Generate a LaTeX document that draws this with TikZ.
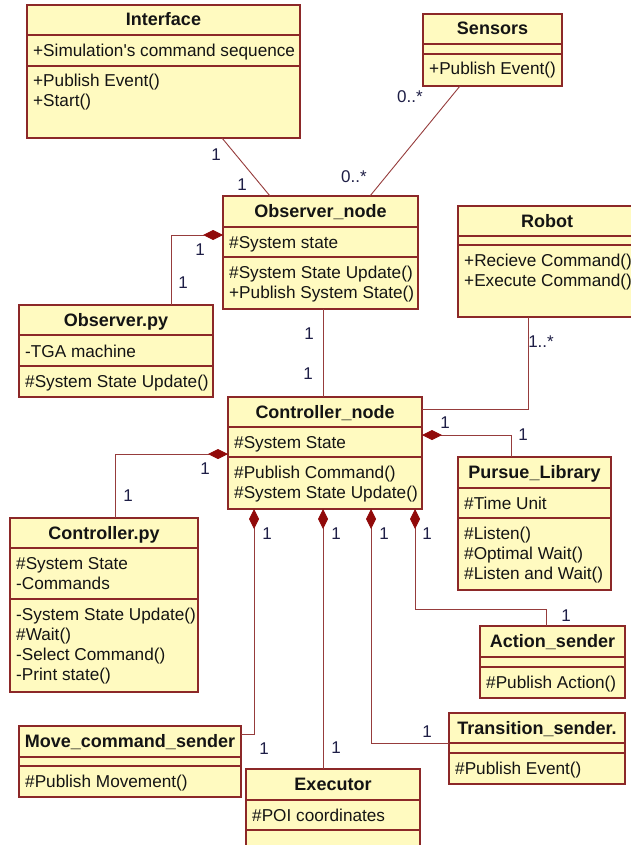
\documentclass[tikz,border=0pt]{standalone}
\usepackage{fontspec}
\setmainfont{Liberation Sans}
\usetikzlibrary{arrows.meta}

\definecolor{ufill}{RGB}{255,250,192}
\definecolor{uborder}{RGB}{140,40,40}
\definecolor{uline}{RGB}{150,60,60}
\definecolor{udiamond}{RGB}{145,10,10}
\definecolor{utext}{RGB}{20,20,20}
\definecolor{umult}{RGB}{30,30,70}

\tikzset{
  classbox/.style={draw=uborder, fill=ufill, line width=1.1pt, inner sep=0pt,
    outer sep=0pt, anchor=north west},
  divider/.style={draw=uborder, line width=1.1pt},
  classtitle/.style={font=\bfseries\fontsize{18}{20}\selectfont, text=utext,
    inner sep=0pt, anchor=base},
  member/.style={font=\fontsize{17.2}{20}\selectfont, text=utext, inner sep=0pt,
    anchor=base west},
  mult/.style={font=\fontsize{17}{20}\selectfont, text=umult, inner sep=0pt},
  assoc/.style={draw=uline, line width=0.9pt},
  compose/.style={assoc,
    {Diamond[length=20pt,width=10pt,color=udiamond,fill=udiamond]}-},
}

% class box: name, left, top, right, bottom, divider 1, divider 2, title
\newcommand\umlclass[8]{%
  \pgfmathsetmacro\cw{#4-#2}\pgfmathsetmacro\ch{#5-#3}%
  \node[classbox, minimum width=\cw pt, minimum height=\ch pt] (#1) at (#2,#3) {};
  \draw[divider] (#2,#6) -- (#4,#6) (#2,#7) -- (#4,#7);
  \node[classtitle] (#1-title) at ({(#2+#4)/2},{(#3+#6)/2+6}) {#8};
}
% compartment lines: name prefix, x, first baseline, list of lines
\newcommand\members[4]{%
  \foreach \t [count=\i] in {#4} {
    \node[member] (#1-\i) at (#2,{#3+20*(\i-1)}) {\t};
  }%
}

\begin{document}
\begin{tikzpicture}[x=1pt,y=-1pt]
\useasboundingbox (0,0) rectangle (631,845);
\clip (0,0) rectangle (631,845);
\fill[white] (0,0) rectangle (631,845);

% ---- classes ----
\umlclass{iface}{27}{5}{300}{138}{35}{66}{Interface}
\members{iface-a}{33}{57}{+Simulation\textquotesingle s command sequence}
\members{iface-m}{33}{87}{+Publish Event(),+Start()}

\umlclass{sensors}{423}{14}{562}{86}{44}{54}{Sensors}
\members{sensors-m}{429}{75}{+Publish Event()}

\umlclass{obsnode}{223}{196}{418}{309}{227}{257}{Observer\_node}
\members{obsnode-a}{229}{248}{\#System state}
\members{obsnode-m}{229}{278}{\#System State Update(),+Publish System State()}

\umlclass{obspy}{19}{305}{213}{397}{335}{366}{Observer.py}
\members{obspy-a}{25}{357}{-TGA machine}
\members{obspy-m}{25}{387}{\#System State Update()}

\umlclass{robot}{458}{206}{636}{317}{236}{245}{Robot}
\members{robot-m}{464}{266}{+Recieve Command(),+Execute Command()}

\umlclass{ctrlnode}{228}{397}{422}{509}{427}{457}{Controller\_node}
\members{ctrlnode-a}{234}{448}{\#System State}
\members{ctrlnode-m}{234}{478}{\#Publish Command(),\#System State Update()}

\umlclass{ctrlpy}{10}{518}{198}{692}{548}{599}{Controller.py}
\members{ctrlpy-a}{16}{569}{\#System State,-Commands}
\members{ctrlpy-m}{16}{620}{-System State Update(),\#Wait(),-Select Command(),-Print state()}

\umlclass{pursue}{458}{457}{611}{590}{488}{518}{Pursue\_Library}
\members{pursue-a}{464}{509}{\#Time Unit}
\members{pursue-m}{464}{539}{\#Listen(),\#Optimal Wait(),\#Listen and Wait()}

\umlclass{action}{480}{626}{625}{698}{657}{667}{Action\_sender}
\members{action-m}{486}{688}{\#Publish Action()}

\umlclass{trans}{449}{713}{625}{784}{743}{753}{Transition\_sender.}
\members{trans-m}{455}{774}{\#Publish Event()}

\umlclass{move}{19}{726}{241}{797}{757}{766}{Move\_command\_sender}
\members{move-m}{25}{787}{\#Publish Movement()}

\umlclass{executor}{246}{769}{420}{870}{800}{830}{Executor}
\members{executor-a}{252}{821}{\#POI coordinates}

% ---- associations ----
\draw[assoc] (iface.south -| 222,0) -- (obsnode.north -| 270,0);
\draw[assoc] (sensors.south -| 460,0) -- (obsnode.north -| 370,0);
\draw[assoc] (obsnode.south -| 323,0) -- (ctrlnode.north -| 323,0);
\draw[assoc] (robot.south -| 528,0) |- (ctrlnode.east |- 0,409);

% ---- compositions ----
\draw[compose] (obsnode.west |- 0,235) -| (obspy.north -| 171,0);
\draw[compose] (ctrlnode.west |- 0,454) -| (ctrlpy.north -| 115,0);
\draw[compose] (ctrlnode.east |- 0,435) -| (pursue.north -| 511,0);
\draw[compose] (ctrlnode.south -| 254,0) |- (move.east |- 0,734);
\draw[compose] (ctrlnode.south -| 323,0) -- (executor.north -| 323,0);
\draw[compose] (ctrlnode.south -| 371,0) |- (trans.west |- 0,743);
\draw[compose] (ctrlnode.south -| 415,0) -- (415,609) -| (action.north -| 546,0);

% ---- multiplicities ----
\node[mult] (m1) at (216,155) {1};
\node[mult] (m2) at (242,185) {1};
\node[mult] (m3) at (410,97) {0..*};
\node[mult] (m4) at (354,177) {0..*};
\node[mult] (m5) at (200,250) {1};
\node[mult] (m6) at (183,283) {1};
\node[mult] (m7) at (309,334) {1};
\node[mult] (m8) at (308,374) {1};
\node[mult] (m9) at (541,342) {1..*};
\node[mult] (m10) at (445,423) {1};
\node[mult] (m11) at (523,435) {1};
\node[mult] (m12) at (205,469) {1};
\node[mult] (m13) at (128,496) {1};
\node[mult] (m14) at (267,534) {1};
\node[mult] (m15) at (336,534) {1};
\node[mult] (m16) at (384,534) {1};
\node[mult] (m17) at (427,534) {1};
\node[mult] (m18) at (264,749) {1};
\node[mult] (m19) at (336,748) {1};
\node[mult] (m20) at (427,732) {1};
\node[mult] (m21) at (566,616) {1};
\end{tikzpicture}
\end{document}
